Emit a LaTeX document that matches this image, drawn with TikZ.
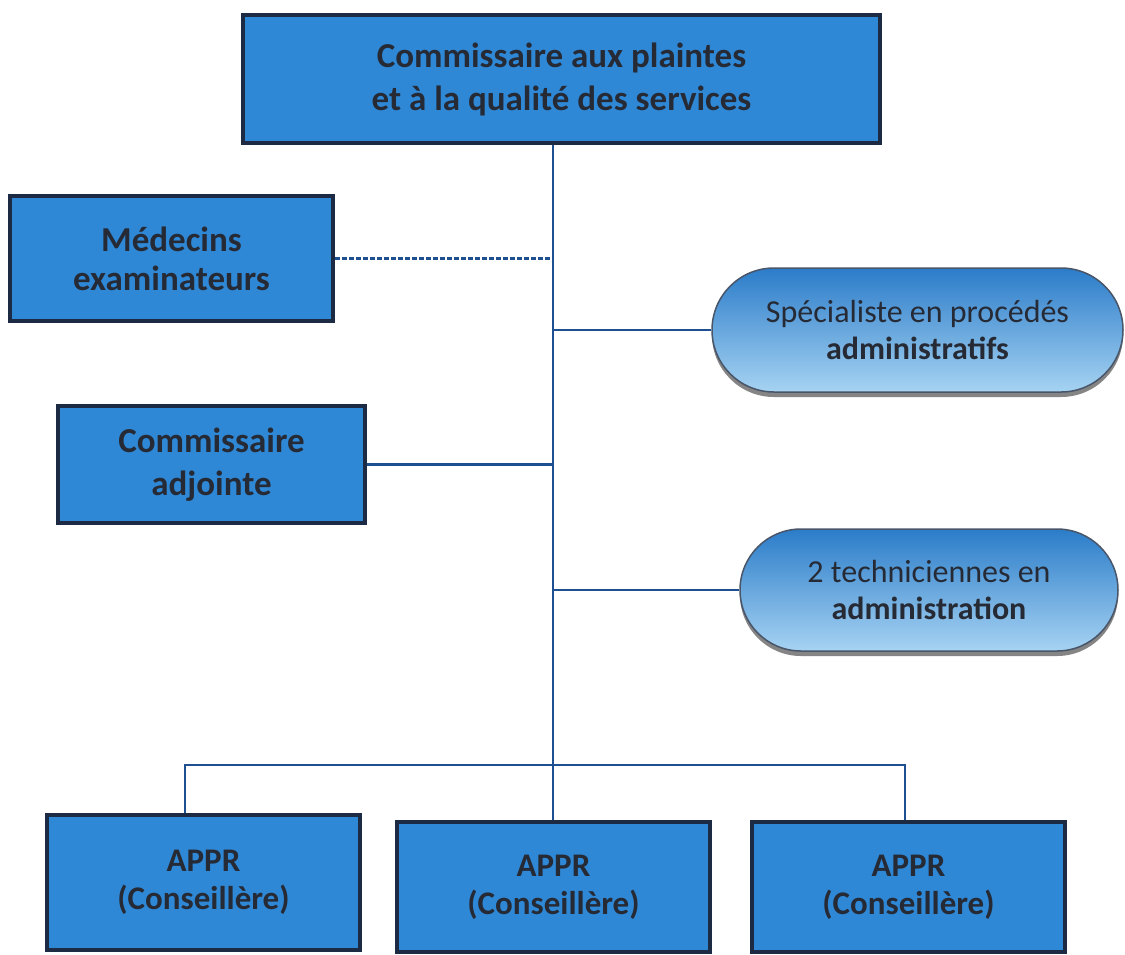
\documentclass[tikz,border=0pt]{standalone}
\usepackage{fontspec}
\setmainfont{Carlito}
\usetikzlibrary{shapes.misc,shadows}
\definecolor{boxfill}{HTML}{2F88D6}
\definecolor{boxline}{HTML}{1C2A44}
\definecolor{conn}{HTML}{1D4F91}
\definecolor{txt}{HTML}{262A35}
\definecolor{pilltop}{HTML}{2B7CC9}
\definecolor{pillbot}{HTML}{A6D3F2}
\tikzset{
  box/.style={draw=boxline, line width=4pt, fill=boxfill, inner sep=0pt, align=center,
    text=txt, font=\fontsize{35}{43}\selectfont\bfseries},
  pill/.style={rounded rectangle, draw=boxline!80, line width=1.5pt, top color=pilltop, bottom color=pillbot,
    inner sep=0pt, align=center, text=txt, font=\fontsize{32}{37}\selectfont,
    drop shadow={shadow xshift=0pt, shadow yshift=-5pt, fill=black!60, opacity=0.8}},
  link/.style={draw=conn, line width=2.2pt},
  appr/.style={box, font=\fontsize{33}{38}\selectfont\bfseries},
}
\begin{document}
\begin{tikzpicture}[x=1pt,y=-1pt]
\useasboundingbox (0,0) rectangle (1125,954);
\node[box, minimum width=637, minimum height=128] (top) at (561.5,79) {Commissaire aux plaintes\\et à la qualité des services};
\node[box, minimum width=323, minimum height=125, font=\fontsize{35}{39}\selectfont\bfseries] (med) at (171.5,258.5) {Médecins\\examinateurs};
\node[box, minimum width=307, minimum height=117] (adj) at (211.5,464.5) {Commissaire\\adjointe};
\node[pill, minimum width=411, minimum height=124] (spec) at (917.5,330) {Spécialiste en procédés\\\bfseries administratifs};
\node[pill, minimum width=378, minimum height=122] (tech) at (929,590) {2 techniciennes en\\\bfseries administration};
\node[appr, minimum width=313, minimum height=135] (a1) at (203.5,882.5) {APPR\\(Conseillère)};
\node[appr, minimum width=313, minimum height=130] (a2) at (553.5,887) {APPR\\(Conseillère)};
\node[appr, minimum width=313, minimum height=130] (a3) at (908.5,887) {APPR\\(Conseillère)};
\coordinate (t) at (553,143);
\coordinate (bus) at (553,765);
\draw[link] (t |- top.south) -- (t |- a2.north);
\draw[link, dash pattern=on 5pt off 2pt] (med.east) -- (med.east -| t);
\draw[link] (spec.west) -- (spec.west -| t);
\draw[link] (adj.east) -- (adj.east -| t);
\draw[link] (tech.west) -- (tech.west -| t);
\draw[link] ([xshift=-18.5pt]a1.north) |- (bus) -| ([xshift=-3.5pt]a3.north);
\end{tikzpicture}
\end{document}
